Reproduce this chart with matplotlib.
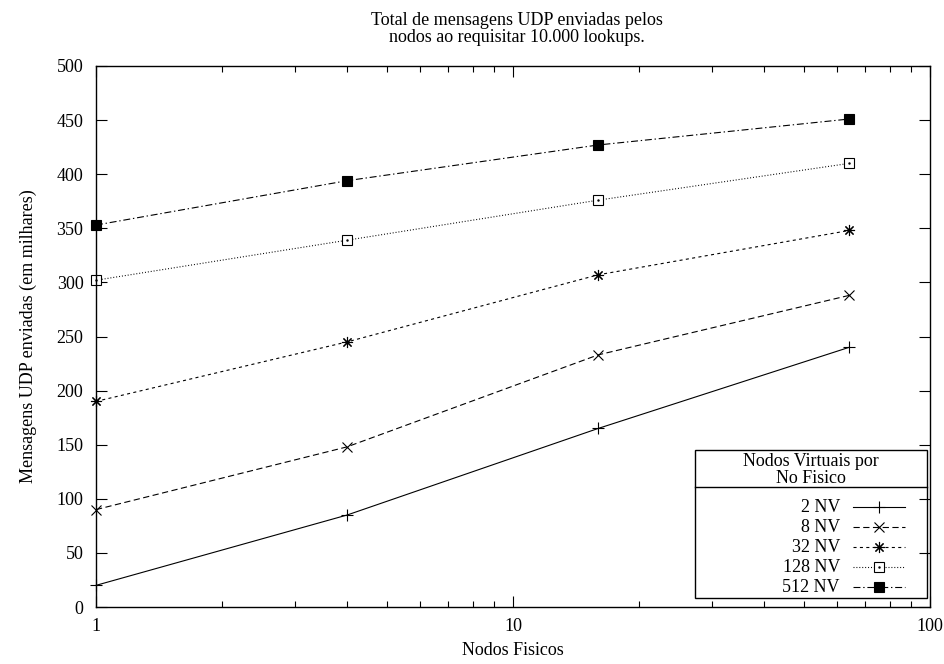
#!/usr/bin/env python3

import matplotlib
matplotlib.use("Agg")
import matplotlib.pyplot as plt
from matplotlib.lines import Line2D
from matplotlib.patches import Rectangle
from matplotlib.ticker import FixedLocator, NullFormatter

nodos_fisicos = [1, 4, 16, 64]
nv_2 = [20, 85, 165, 240]
nv_8 = [90, 148, 233, 288]
nv_32 = [190, 245, 307, 348]
nv_128 = [302, 339, 376, 410]
nv_512 = [353, 394, 427, 451]
series_labels = ["2 NV", "8 NV", "32 NV", "128 NV", "512 NV"]

titulo = "Total de mensagens UDP enviadas pelos\nnodos ao requisitar 10.000 lookups."
titulo_legenda = "Nodos Virtuais por\nNo Fisico"
x_ticks = [1, 10, 100]
y_ticks = list(range(0, 501, 50))

styles = [
    dict(ls="-", marker="+", ms=8, mew=0.8, mfc="black"),
    dict(ls=(0, (4.5, 2.5)), marker="x", ms=7, mew=0.8, mfc="black"),
    dict(ls=(0, (2.2, 2.4)), marker=(8, 2, 0), ms=8, mew=0.8, mfc="black"),
    dict(ls=(0, (0.7, 1.4)), marker="s", ms=6.5, mew=0.8, mfc="white"),
    dict(ls=(0, (5, 2, 1, 2)), marker="s", ms=7, mew=0.8, mfc="black"),
]


def main():
    plt.rcParams["font.family"] = ["Liberation Serif", "DejaVu Serif"]
    plt.rcParams["font.size"] = 13
    plt.rcParams["lines.scale_dashes"] = False

    fig = plt.figure(figsize=(9.45, 6.64), dpi=100)
    # plot box in pixels: left 96, right 930, top 66, bottom 607
    L, R, T, B = 96, 930, 66, 607
    ax = fig.add_axes([L / 945, 1 - B / 664, (R - L) / 945, (B - T) / 664])

    all_series = [nv_2, nv_8, nv_32, nv_128, nv_512]
    for vals, st in zip(all_series, styles):
        ax.plot(nodos_fisicos, vals, color="black", lw=0.8, mec="black",
                clip_on=False, **st)
        if st["mfc"] == "white":
            ax.plot(nodos_fisicos, vals, ls="none", marker=".", ms=1.5,
                    color="black", clip_on=False)

    ax.set_xscale("log")
    ax.set_xlim(1, 100)
    ax.set_ylim(0, 500)
    ax.set_xticks(x_ticks)
    ax.set_xticklabels([str(t) for t in x_ticks])
    ax.xaxis.set_minor_locator(FixedLocator([m * d for d in (1, 10) for m in range(2, 10)]))
    ax.xaxis.set_minor_formatter(NullFormatter())
    ax.set_yticks(y_ticks)
    ax.tick_params(which="both", direction="in", top=True, right=True, width=0.8)
    ax.tick_params(which="major", length=8, pad=9)
    ax.tick_params(which="minor", length=4)
    ax.tick_params(axis="x", which="major", pad=8)
    for sp in ax.spines.values():
        sp.set_linewidth(1.0)

    ax.set_xlabel("Nodos Fisicos", labelpad=5)
    ax.set_ylabel("Mensagens UDP enviadas (em milhares)", labelpad=14)
    fig.text(517 / 945, 1 - 29 / 664, titulo, ha="center", va="center",
             linespacing=0.95)

    # legend box, positions in pixels
    def ac(px, py):
        return ((px - L) / (R - L), (B - py) / (B - T))

    x0, y0 = ac(695, 598)
    x1, y1 = ac(927, 450)
    ax.add_patch(Rectangle((x0, y0), x1 - x0, y1 - y0, transform=ax.transAxes,
                           fill=False, lw=1.0, ec="black", zorder=5))
    sx0, sy = ac(695, 487)
    sx1, _ = ac(927, 487)
    ax.add_line(Line2D([sx0, sx1], [sy, sy], transform=ax.transAxes,
                       color="black", lw=1.0, zorder=5))
    tx, ty = ac(811, 470)
    ax.text(tx, ty, titulo_legenda, transform=ax.transAxes, ha="center",
            va="center", linespacing=0.95)
    for i, (lab, st) in enumerate(zip(series_labels, styles)):
        py = 507 + 20 * i
        lx, ly = ac(840, py)
        ax.text(lx, ly, lab, transform=ax.transAxes, ha="right", va="center")
        a, _ = ac(853, py)
        b, _ = ac(905, py)
        m, _ = ac(879, py)
        ls = st["ls"]
        ax.add_line(Line2D([a, b], [ly, ly], transform=ax.transAxes,
                           color="black", lw=0.8, ls=ls, zorder=6))
        kw = {k: v for k, v in st.items() if k != "ls"}
        ax.add_line(Line2D([m], [ly], transform=ax.transAxes, ls="none",
                           color="black", mec="black", zorder=7, **kw))
        if st["mfc"] == "white":
            ax.add_line(Line2D([m], [ly], transform=ax.transAxes, ls="none",
                               marker=".", ms=1.5, color="black", zorder=8))

    fig.savefig("out.png", dpi=100)


if __name__ == "__main__":
    main()
